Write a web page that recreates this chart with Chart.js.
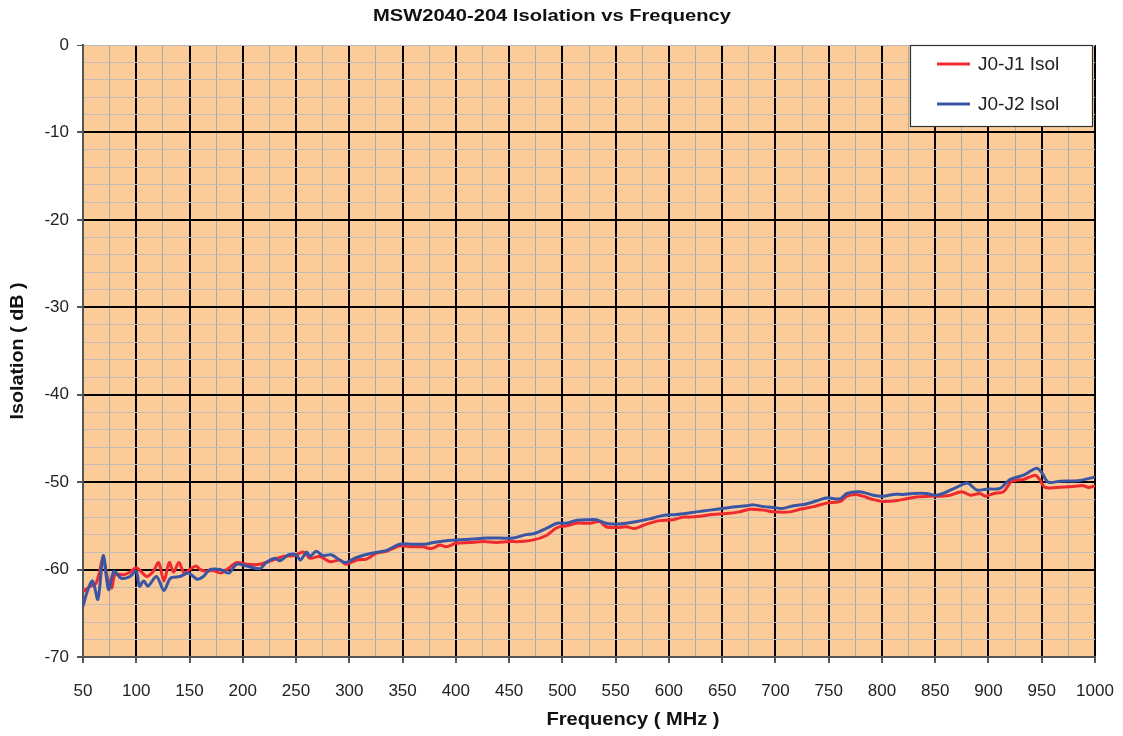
<!DOCTYPE html>
<html>
<head>
<meta charset="utf-8">
<title>MSW2040-204 Isolation vs Frequency</title>
<script src="https://cdn.jsdelivr.net/npm/chart.js@4/dist/chart.umd.min.js"></script>
<style>
  html, body { margin: 0; padding: 0; background: #fff; }
  #wrap { width: 1123px; height: 736px; position: relative; }
</style>
</head>
<body>
<div id="wrap"><canvas id="isolChart" width="1123" height="736"></canvas></div>
<script>
// frequency (MHz) / isolation (dB)
const freqJ1 = [50, 57, 62, 65, 69, 73, 77, 80, 88, 94, 100, 106, 110, 116, 121, 126, 131, 135, 140, 145,
  150, 156, 160, 166, 172, 179, 185, 194, 204, 216, 226, 238, 248, 257, 263, 272, 282, 291, 297, 307,
  316, 326, 335, 347, 357, 369, 377, 385, 391, 400, 413, 426, 438, 450, 460, 473, 485, 495, 504, 513,
  526, 535, 541, 551, 560, 568, 579, 591, 604, 613, 620, 629, 641, 654, 666, 676, 689, 698, 714, 723,
  736, 748, 761, 767, 775, 782, 792, 801, 814, 823, 832, 845, 855, 864, 875, 883, 892, 897, 905, 914,
  922, 933, 944, 948, 953, 964, 980, 989, 994, 1000];
const isolJ1 = [-62.5, -61.9, -61.6, -60.5, -58.6, -61.0, -62.1, -60.6, -60.6, -60.3, -59.8, -60.4, -60.8, -60.2, -59.2, -61.3, -59.2, -60.3, -59.2, -60.4,
  -60.0, -59.6, -60.0, -60.2, -60.1, -60.4, -60.0, -59.2, -59.4, -59.4, -59.0, -58.5, -58.4, -58.0, -58.7, -58.5, -59.1, -58.9, -59.4, -58.9,
  -58.8, -58.1, -57.9, -57.3, -57.4, -57.4, -57.6, -57.2, -57.4, -57.0, -56.9, -56.8, -56.9, -56.8, -56.8, -56.6, -56.1, -55.2, -55.0, -54.7,
  -54.7, -54.5, -55.1, -55.2, -55.1, -55.3, -54.8, -54.4, -54.3, -54.0, -54.0, -53.9, -53.7, -53.6, -53.4, -53.1, -53.2, -53.4, -53.4, -53.1,
  -52.8, -52.4, -52.2, -51.6, -51.4, -51.6, -52.0, -52.2, -52.1, -51.9, -51.7, -51.6, -51.6, -51.5, -51.1, -51.5, -51.3, -51.6, -51.3, -51.1,
  -49.9, -49.7, -49.2, -49.7, -50.6, -50.6, -50.5, -50.4, -50.6, -50.4];

const freqJ2 = [50, 54, 59, 64, 69, 74, 79, 86, 94, 100, 103, 107, 111, 119, 126, 132, 141, 149, 157, 163,
  169, 179, 187, 194, 204, 216, 222, 230, 235, 243, 250, 254, 260, 263, 269, 275, 283, 291, 296, 302,
  305, 315, 322, 335, 347, 360, 371, 379, 391, 404, 416, 429, 441, 454, 466, 473, 485, 495, 504, 512,
  523, 532, 541, 551, 560, 570, 582, 595, 607, 620, 632, 645, 657, 673, 679, 689, 698, 707, 717, 729,
  742, 748, 761, 767, 779, 792, 801, 811, 820, 829, 842, 851, 861, 870, 880, 889, 898, 911, 920, 933,
  945, 950, 956, 967, 986, 1000];
const isolJ2 = [-64.2, -62.5, -61.3, -63.4, -58.4, -62.3, -60.2, -61.0, -60.8, -60.2, -61.9, -61.3, -61.9, -60.8, -62.4, -61.0, -60.8, -60.4, -61.1, -60.8,
  -60.0, -60.0, -60.4, -59.4, -59.6, -59.9, -59.2, -58.7, -59.0, -58.3, -58.3, -58.9, -58.0, -58.5, -57.9, -58.4, -58.3, -58.9, -59.2, -58.9,
  -58.7, -58.3, -58.1, -57.8, -57.1, -57.1, -57.1, -56.9, -56.7, -56.6, -56.5, -56.4, -56.4, -56.4, -56.0, -55.9, -55.3, -54.7, -54.7, -54.4,
  -54.3, -54.3, -54.7, -54.8, -54.7, -54.5, -54.2, -53.8, -53.7, -53.5, -53.3, -53.1, -52.9, -52.7, -52.6, -52.8, -52.9, -53.0, -52.7, -52.5,
  -52.0, -51.8, -51.9, -51.3, -51.1, -51.5, -51.6, -51.4, -51.4, -51.3, -51.3, -51.5, -51.1, -50.6, -50.1, -50.9, -50.8, -50.7, -49.7, -49.2,
  -48.4, -48.9, -50.0, -49.9, -49.8, -49.4];

const seriesNames = ["J0-J1 Isol", "J0-J2 Isol"];
const chartTitle = "MSW2040-204 Isolation vs Frequency";
const xTitle = "Frequency ( MHz )";
const yTitle = "Isolation ( dB )";
const xMin = 50, xMax = 1000, xMajor = 50, xMinor = 25;
const yMin = -70, yMax = 0, yMajor = 10, yMinor = 2;

const FONT = "'Liberation Sans', Arial, sans-serif";

function toPoints(xs, ys) {
  return xs.map((x, i) => ({ x: x, y: ys[i] }));
}

// orange plot background
const plotBackground = {
  id: "plotBackground",
  beforeDraw(chart) {
    const { ctx, chartArea: a } = chart;
    ctx.save();
    ctx.fillStyle = "#fbcc99";
    ctx.fillRect(a.left, a.top, a.right - a.left, a.bottom - a.top);
    ctx.restore();
  },
};

// text squeezed/stretched to a given width (the source uses a wide bold face)
function wideText(ctx, text, cx, cy, size, width, angle) {
  ctx.save();
  ctx.font = "bold " + size + "px " + FONT;
  ctx.fillStyle = "#111";
  ctx.textAlign = "center";
  ctx.textBaseline = "middle";
  ctx.translate(cx, cy);
  if (angle) ctx.rotate(angle);
  const w = ctx.measureText(text).width;
  ctx.scale(width / w, 1);
  ctx.fillText(text, 0, 0);
  ctx.restore();
}

// titles, placed like in the source image
const titles = {
  id: "titles",
  afterDraw(chart) {
    const ctx = chart.ctx;
    wideText(ctx, chartTitle, 552, 17, 16, 358, 0);
    wideText(ctx, xTitle, 633, 720, 18, 173, 0);
    wideText(ctx, yTitle, 18, 351, 18, 137, -Math.PI / 2);
  },
};

// legend box in the top right corner of the plot
const boxLegend = {
  id: "boxLegend",
  afterDraw(chart) {
    const { ctx, chartArea: a } = chart;
    const w = 183, h = 82;
    const left = a.right - w - 2, top = a.top;
    ctx.save();
    ctx.fillStyle = "#ffffff";
    ctx.fillRect(left, top, w, h);
    ctx.strokeStyle = "#333";
    ctx.lineWidth = 1.2;
    ctx.strokeRect(left + 0.5, top + 0.5, w - 1, h - 1);
    ctx.font = "19px " + FONT;
    ctx.textBaseline = "middle";
    chart.data.datasets.forEach((ds, i) => {
      const y = top + 19 + i * 40;
      ctx.strokeStyle = ds.borderColor;
      ctx.lineWidth = 3;
      ctx.beginPath();
      ctx.moveTo(left + 27, y);
      ctx.lineTo(left + 60, y);
      ctx.stroke();
      ctx.fillStyle = "#222";
      ctx.fillText(ds.label, left + 68, y + 1);
    });
    ctx.restore();
  },
};

document.addEventListener("DOMContentLoaded", function () {
  const ctx = document.getElementById("isolChart");

  new Chart(ctx, {
    type: "line",
    data: {
      datasets: [
        {
          label: seriesNames[0],
          data: toPoints(freqJ1, isolJ1),
          borderColor: "#ee2a2e",
          borderWidth: 3,
          pointRadius: 0,
          tension: 0.3,
          order: 2,
        },
        {
          label: seriesNames[1],
          data: toPoints(freqJ2, isolJ2),
          borderColor: "#3b55a5",
          borderWidth: 3,
          pointRadius: 0,
          tension: 0.3,
          order: 1,
        },
      ],
    },
    options: {
      responsive: false,
      animation: false,
      layout: { padding: { left: 0, right: 28, top: 45, bottom: 0 } },
      plugins: {
        legend: { display: false },
        tooltip: { enabled: false },
        title: { display: false },
      },
      scales: {
        x: {
          type: "linear",
          min: xMin,
          max: xMax,
          afterFit(scale) {
            scale.height = 736 - 657;
            scale.paddingRight = 0;
            scale.paddingLeft = 0;
          },
          ticks: {
            stepSize: xMinor,
            color: "#222",
            font: { family: FONT, size: 17 },
            padding: 18,
            maxRotation: 0,
            autoSkip: false,
            callback: (v) => (v % xMajor === 0 ? v : ""),
          },
          grid: {
            color: (c) => (c.tick && c.tick.value % xMajor === 0 ? "#000" : "#aaaaaa"),
            lineWidth: (c) => (c.tick && c.tick.value % xMajor === 0 ? 2 : 1),
            tickColor: (c) => (c.tick && c.tick.value % xMajor === 0 ? "#555" : "rgba(0,0,0,0)"),
            tickLength: 6,
          },
          border: { color: "#555", width: 2 },
        },
        y: {
          min: yMin,
          max: yMax,
          afterFit(scale) {
            scale.width = 83;
          },
          ticks: {
            stepSize: yMinor,
            color: "#222",
            font: { family: FONT, size: 17 },
            padding: 8,
            autoSkip: false,
            callback: (v) => (v % yMajor === 0 ? v : ""),
          },
          grid: {
            color: (c) => {
              if (!c.tick) return "#bbb";
              if (c.tick.value === yMax) return "#bbbbbb";
              return c.tick.value % yMajor === 0 ? "#000" : "#c4bdb5";
            },
            lineWidth: (c) => (c.tick && c.tick.value % yMajor === 0 && c.tick.value !== yMax ? 2 : 1),
            tickColor: (c) => (c.tick && c.tick.value % yMajor === 0 ? "#555" : "rgba(0,0,0,0)"),
            tickLength: 6,
          },
          border: { color: "#555", width: 2 },
        },
      },
    },
    plugins: [plotBackground, titles, boxLegend],
  });
});
</script>
</body>
</html>
